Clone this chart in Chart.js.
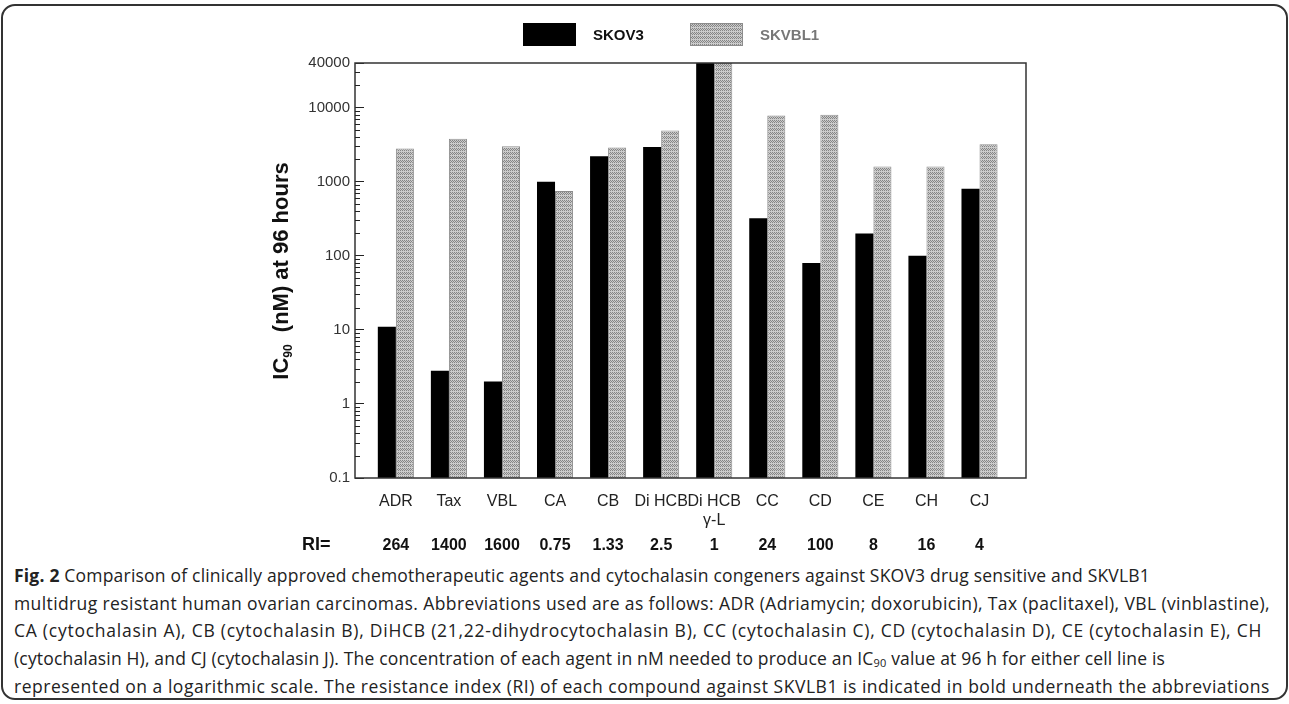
<!DOCTYPE html>
<html>
<head>
<meta charset="utf-8">
<script src="https://cdn.jsdelivr.net/npm/chart.js@4.4.1/dist/chart.umd.min.js"></script>
<style>
  html, body { margin: 0; padding: 0; background: #fff; }
  body { width: 1289px; height: 704px; position: relative; overflow: hidden; }
  #frame {
    position: absolute; left: 1px; top: 4px; width: 1283px; height: 692px;
    border: 2px solid #333; border-radius: 14px;
  }
  #wrap { position: absolute; left: 0; top: 0; width: 1289px; height: 560px; }
  #caption {
    position: absolute; left: 14px; top: 562px;
    font-family: "Open Sans", sans-serif; font-size: 17.5px; line-height: 27.7px;
    color: #222; white-space: nowrap;
  }
  #caption div { height: 27.7px; }
  #caption span.l { display: inline-block; }
  #caption sub { font-size: 11px; vertical-align: -2px; line-height: 0; }
</style>
</head>
<body>
<div id="frame"></div>
<div id="wrap"><canvas id="myChart" width="1289" height="560"></canvas></div>
<div id="caption">
<div><span class="l" data-w="1136"><b>Fig. 2</b> Comparison of clinically approved chemotherapeutic agents and cytochalasin congeners against SKOV3 drug sensitive and SKVLB1</span></div>
<div><span class="l" data-w="1256">multidrug resistant human ovarian carcinomas. Abbreviations used are as follows: ADR (Adriamycin; doxorubicin), Tax (paclitaxel), VBL (vinblastine),</span></div>
<div><span class="l" data-w="1248">CA (cytochalasin A), CB (cytochalasin B), DiHCB (21,22-dihydrocytochalasin B), CC (cytochalasin C), CD (cytochalasin D), CE (cytochalasin E), CH</span></div>
<div><span class="l" data-w="1151">(cytochalasin H), and CJ (cytochalasin J). The concentration of each agent in nM needed to produce an IC<sub>90</sub> value at 96 h for either cell line is</span></div>
<div><span class="l" data-w="1256">represented on a logarithmic scale. The resistance index (RI) of each compound against SKVLB1 is indicated in bold underneath the abbreviations</span></div>
</div>
<script>
const categories = [['ADR'], ['Tax'], ['VBL'], ['CA'], ['CB'], ['Di HCB'], ['Di HCB', 'γ-L'], ['CC'], ['CD'], ['CE'], ['CH'], ['CJ']];
const skov3 = [11, 2.8, 2, 1000, 2200, 2950, 40000, 320, 80, 200, 100, 800];
const skvbl1 = [2800, 3800, 3000, 750, 2900, 4900, 40000, 7800, 8000, 1600, 1600, 3200];
const riValues = ['264', '1400', '1600', '0.75', '1.33', '2.5', '1', '24', '100', '8', '16', '4'];
const yLabelTicks = [0.1, 1, 10, 100, 1000, 10000, 40000];
// minor tick positions (2..9 in every decade, plus 20000/30000)
const yMinorTicks = [];
[0.1, 1, 10, 100, 1000].forEach(d => { for (let k = 2; k <= 9; k++) yMinorTicks.push(d * k); });
yMinorTicks.push(20000, 30000);

// stretch each caption line a little to the reference width
document.querySelectorAll('#caption span.l').forEach(s => {
    const target = Number(s.dataset.w);
    const n = s.textContent.length;
    const extra = (target - s.getBoundingClientRect().width) / n;
    s.style.letterSpacing = extra.toFixed(3) + 'px';
});

// grey hatch used for SKVBL1
function makePattern() {
    const c = document.createElement('canvas');
    c.width = 4; c.height = 4;
    const g = c.getContext('2d');
    g.fillStyle = '#cbcbcb';
    g.fillRect(0, 0, 4, 4);
    g.fillStyle = '#858585';
    [[0, 0], [1, 1], [2, 0], [3, 1], [0, 2], [2, 2]].forEach(p => g.fillRect(p[0], p[1], 1, 1));
    return g.createPattern(c, 'repeat');
}

const ctx = document.getElementById('myChart').getContext('2d');
const hatch = makePattern();

const extrasPlugin = {
    id: 'extras',
    afterDraw(chart) {
        const c = chart.ctx;
        const area = chart.chartArea;
        const y = chart.scales.y;
        const x = chart.scales.x;
        c.save();

        // frame
        c.strokeStyle = '#333';
        c.lineWidth = 1.5;
        c.strokeRect(area.left, area.top, area.right - area.left, area.bottom - area.top);

        // short minor ticks pointing into the plot
        c.strokeStyle = '#222';
        c.lineWidth = 1;
        yMinorTicks.forEach(v => {
            const py = Math.round(y.getPixelForValue(v)) + 0.5;
            c.beginPath();
            c.moveTo(area.left, py);
            c.lineTo(area.left + 5, py);
            c.stroke();
        });

        // legend
        c.fillStyle = '#000';
        c.fillRect(523, 23, 53, 23);
        c.fillStyle = hatch;
        c.fillRect(690, 23, 53, 23);
        c.strokeStyle = '#8c8c8c';
        c.strokeRect(690.5, 23.5, 52, 22);
        c.textBaseline = 'middle';
        c.textAlign = 'left';
        c.font = 'bold 15px "Liberation Sans", Arial, sans-serif';
        c.fillStyle = '#111';
        c.fillText('SKOV3', 593, 36);
        c.fillStyle = '#777';
        c.fillText('SKVBL1', 760, 36);

        // y title with subscript
        c.translate(288, 271);
        c.rotate(-Math.PI / 2);
        c.fillStyle = '#111';
        c.textBaseline = 'alphabetic';
        const big = 'bold 22px "Liberation Sans", Arial, sans-serif';
        const small = 'bold 12px "Liberation Sans", Arial, sans-serif';
        const p1 = 'IC', p2 = '90', p3 = '  (nM) at 96 hours';
        c.font = big;
        const w1 = c.measureText(p1).width, w3 = c.measureText(p3).width;
        c.font = small;
        const w2 = c.measureText(p2).width;
        let sx = -(w1 + w2 + w3) / 2;
        c.font = big;
        c.fillText(p1, sx, 0);
        c.font = small;
        c.fillText(p2, sx + w1, 4);
        c.font = big;
        c.fillText(p3, sx + w1 + w2, 0);
        c.setTransform(1, 0, 0, 1, 0, 0);

        // RI row
        c.fillStyle = '#111';
        c.textBaseline = 'middle';
        c.font = 'bold 18px "Liberation Sans", Arial, sans-serif';
        c.textAlign = 'left';
        c.fillText('RI=', 302, 545);
        c.font = 'bold 16px "Liberation Sans", Arial, sans-serif';
        c.textAlign = 'center';
        riValues.forEach((r, i) => {
            c.fillText(r, x.getPixelForValue(i), 546);
        });
        c.restore();
    }
};

const chart = new Chart(ctx, {
    type: 'bar',
    data: {
        datasets: [{
            label: 'SKOV3',
            data: skov3.map((v, i) => ({ x: i, y: v })),
            backgroundColor: '#000',
            borderWidth: 0
        }, {
            label: 'SKVBL1',
            data: skvbl1.map((v, i) => ({ x: i, y: v })),
            backgroundColor: hatch,
            borderColor: '#8c8c8c',
            borderWidth: 1
        }]
    },
    options: {
        responsive: false,
        animation: false,
        categoryPercentage: 0.68,
        barPercentage: 1,
        layout: { padding: { left: 0, top: 63, right: 263, bottom: 0 } },
        plugins: {
            legend: { display: false },
            tooltip: { enabled: false }
        },
        scales: {
            x: {
                type: 'linear',
                bounds: 'data',
                offset: false,
                min: -0.77,
                max: 11.876,
                grid: { display: false, drawTicks: false, offset: false },
                border: { display: false },
                afterBuildTicks: axis => {
                    axis.ticks = categories.map((c, i) => ({ value: i }));
                },
                afterFit: scale => { scale.height = 82; },
                ticks: {
                    autoSkip: false,
                    maxRotation: 0,
                    padding: 14,
                    color: '#222',
                    font: { family: '"Liberation Sans", Arial, sans-serif', size: 16, lineHeight: 1.2 },
                    callback: value => categories[value]
                }
            },
            y: {
                type: 'logarithmic',
                min: 0.1,
                max: 40000,
                // major ticks drawn by Chart.js itself, pointing inward
                grid: {
                    display: true,
                    drawOnChartArea: false,
                    drawTicks: true,
                    tickLength: -9,
                    tickColor: '#222',
                    tickWidth: 1
                },
                border: { display: false },
                afterBuildTicks: axis => {
                    axis.ticks = yLabelTicks.map(v => ({ value: v }));
                },
                afterFit: scale => { scale.width = 355; },
                ticks: {
                    autoSkip: false,
                    padding: 14,
                    color: '#333',
                    font: { family: '"Liberation Sans", Arial, sans-serif', size: 15 },
                    callback: value => String(value)
                }
            }
        }
    },
    plugins: [extrasPlugin]
});
</script>
</body>
</html>
